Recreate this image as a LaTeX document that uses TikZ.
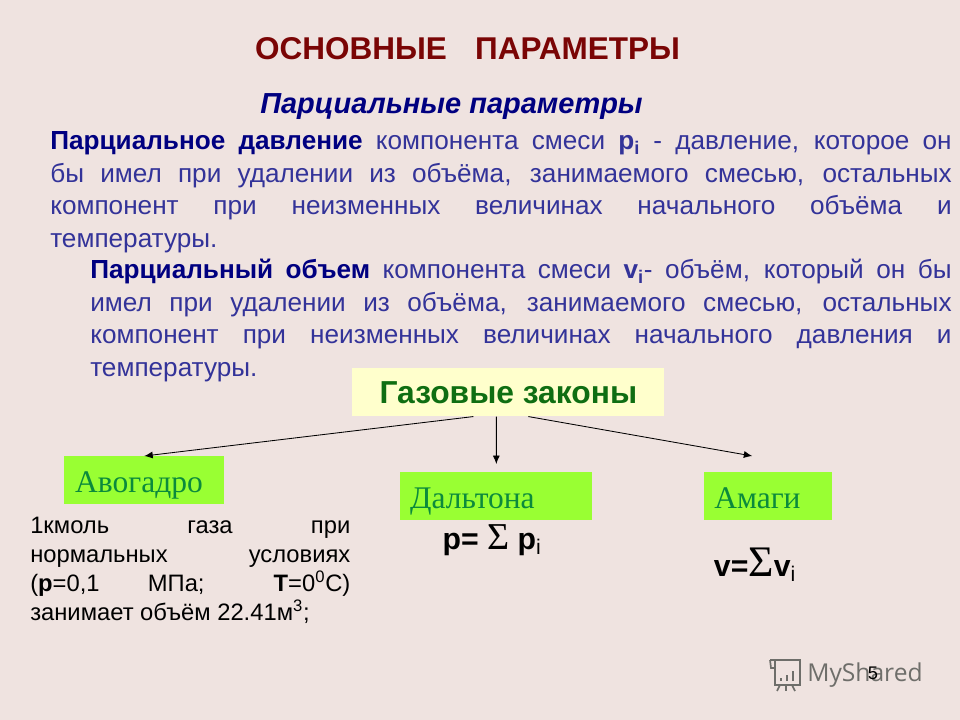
\documentclass[tikz,border=0pt]{standalone}
\usepackage{fontspec}
\usepackage{xcolor}
\usetikzlibrary{arrows.meta}
\setmainfont{Liberation Sans}
\newfontfamily\serifname{Liberation Serif}
\newfontfamily\logoname{Open Sans}
\definecolor{slidebg}{HTML}{EFE3E0}
\definecolor{titlered}{HTML}{7A0505}
\definecolor{headblue}{HTML}{000080}
\definecolor{bodyblue}{HTML}{333399}
\definecolor{lawgreen}{HTML}{99FF33}
\definecolor{lawtext}{HTML}{0B8A3C}
\definecolor{lawhead}{HTML}{0F6E12}
\definecolor{paleyellow}{HTML}{FFFFCC}
\definecolor{logogray}{HTML}{6E6E6A}
\tikzset{
  bodytext/.style={anchor=north west, inner sep=0pt, align=justify, text=bodyblue, font=\fontsize{18.6}{23.1}\selectfont},
  lawbox/.style={anchor=north west, fill=lawgreen, text=lawtext, inner ysep=0pt, align=left, minimum height=34.14pt, text height=25.6pt, text depth=8.54pt, font=\serifname\fontsize{22.4}{24}\selectfont},
  formula/.style={inner sep=0pt, text=black, font=\bfseries\fontsize{21.5}{24}\selectfont},
  lawarrow/.style={-{Latex[length=6pt, width=5pt]}, black, line width=0.6pt},
  logoline/.style={draw=logogray, line width=1.2pt}
}

\begin{document}
\begin{tikzpicture}[x=0.025cm, y=-0.025cm]
  % Page and background
  \useasboundingbox (0, 0) rectangle (960, 720);
  \fill[slidebg] (0, 0) rectangle (960, 720);

  % Headings
  \node[text=titlered, inner sep=0pt, font=\bfseries\fontsize{22.4}{26}\selectfont] (title) at (467.5, 49) {ОСНОВНЫЕ\hspace{0.9em}ПАРАМЕТРЫ};
  \node[text=headblue, inner sep=0pt, font=\bfseries\itshape\fontsize{20.6}{24}\selectfont] (subtitle) at (451.5, 107) {Парциальные параметры};

  % Partial pressure
  \node[bodytext, text width=641pt] (pressure) at (50, 131.5) {\textbf{\color{headblue}Парциальное давление} компонента смеси \textbf{p\textsubscript{i}} - давление, которое он\linebreak бы имел при удалении из объёма, занимаемого смесью, остальных\linebreak компонент при неизменных величинах начального объёма и\linebreak температуры.};

  % Partial volume
  \node[bodytext, text width=612.5pt] (volume) at (90, 259) {\textbf{\color{headblue}Парциальный объем} компонента смеси \textbf{v\textsubscript{i}}- объём, который он бы\linebreak имел при удалении из объёма, занимаемого смесью, остальных\linebreak компонент при неизменных величинах начального давления и\linebreak температуры.};

  % Gas laws
  \node[anchor=north west, fill=paleyellow, text=lawhead, inner sep=0pt, minimum width=222pt, minimum height=34.14pt, font=\bfseries\fontsize{22.6}{26}\selectfont] (laws) at (352, 368) {Газовые законы};
  \node[lawbox, text width=98.2pt, inner xsep=7.8pt] (avogadro) at (64, 456) {Авогадро};
  \node[lawbox, text width=122.6pt, inner xsep=7pt] (dalton) at (400, 472) {Дальтона};
  \node[lawbox, text width=76.8pt, inner xsep=7.1pt] (amagi) at (704, 472) {Амаги};

  % Arrows from the gas laws
  \draw[lawarrow] ([xshift=-0.875cm]laws.south) -- (avogadro.north);
  \draw[lawarrow] ([xshift=-0.3cm]laws.south) -- ([yshift=0.2cm]dalton.north);
  \draw[lawarrow] ([xshift=0.5cm]laws.south) -- ([xshift=-0.4cm, yshift=0.4cm]amagi.north);

  % Avogadro text
  \node[anchor=north west, inner sep=0pt, align=justify, text width=227.6pt, text=black, font=\fontsize{16.9}{20.6}\selectfont] (molar) at (30, 517) {1кмоль газа при\linebreak нормальных условиях\linebreak (\textbf{p}=0,1 МПа; \textbf{T}=0\textsuperscript{0}С)\linebreak занимает объём 22.41м\textsuperscript{3};};

  % Formulas
  \node[formula] (daltonsum) at (492, 540) {p= {\serifname\mdseries\fontsize{27}{24}\selectfont Σ} p\textsubscript{\mdseries i}};
  \node[formula] (amagisum) at (755, 565) {v={\serifname\mdseries\fontsize{31}{24}\selectfont Σ}v\textsubscript{\mdseries i}};

  % Logo
  \node[anchor=west, inner sep=0pt, text=logogray, font=\logoname\fontsize{17.5}{22}\selectfont] (logo) at (807, 675) {MyShared};
  \draw[logoline] (770, 660) -- (800, 660) -- (800, 685) -- (775, 685) -- (775, 661);
  \draw[logoline] (770, 660) -- (771, 668) -- (775, 668);
  \draw[logoline] (780, 685) -- (777, 691);
  \draw[logoline] (786, 685) -- (786, 691);
  \draw[logoline] (792, 685) -- (795, 691);
  \draw[logoline, line width=1.8pt] (781, 681) -- (781, 678) (787, 681) -- (787, 675) (793, 681) -- (793, 671);

  % Slide number
  \node[inner sep=0pt, text=black, font=\fontsize{13}{16}\selectfont] (number) at (873, 673) {5};
\end{tikzpicture}
\end{document}
